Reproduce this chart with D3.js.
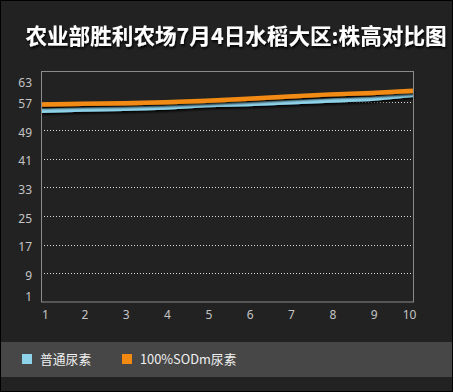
<!DOCTYPE html>
<html>
<head>
<meta charset="utf-8">
<script src="https://cdn.jsdelivr.net/npm/d3@7"></script>
<style>
  html, body { margin: 0; padding: 0; background: #000; }
  svg { display: block; }
</style>
</head>
<body>
<div id="chart"></div>
<script>
// chart data
const titleText = '农业部胜利农场7月4日水稻大区:株高对比图';
const days = [1, 2, 3, 4, 5, 6, 7, 8, 9, 10];
const seriesNames = ['普通尿素', '100%SODm尿素'];
const normalUrea = [54.4, 54.8, 55.0, 55.3, 56.0, 56.3, 56.8, 57.3, 57.8, 58.9];
const sodUrea = [56.2, 56.4, 56.5, 56.8, 57.2, 57.8, 58.4, 59.0, 59.4, 60.0];
const yTicks = [1, 9, 17, 25, 33, 41, 49, 57, 63];
const seriesColors = ['#8fd3ea', '#f28a12'];

const W = 453;
const H = 392;
const margins = { left: 41, right: 40, top: 72, bottom: 90 };

const svg = d3.select('#chart').append('svg')
  .attr('width', W)
  .attr('height', H);

// background + outer frame
svg.append('rect').attr('x', 0).attr('y', 0).attr('width', W).attr('height', H).attr('fill', '#000');
svg.append('rect').attr('x', 1).attr('y', 1).attr('width', W - 2).attr('height', H - 2).attr('fill', '#222222');

// shadow filter for title + lines
const defs = svg.append('defs');
const shadow = defs.append('filter').attr('id', 'shadow').attr('x', '-10%').attr('y', '-50%').attr('width', '120%').attr('height', '200%');
shadow.append('feDropShadow').attr('dx', 1).attr('dy', 2).attr('stdDeviation', 0.8).attr('flood-color', '#000').attr('flood-opacity', 0.9);

svg.append('text')
  .attr('x', 236)
  .attr('y', 44)
  .attr('text-anchor', 'middle')
  .attr('fill', '#fff')
  .attr('font-family', '"Noto Sans CJK SC", sans-serif')
  .attr('font-weight', 'bold')
  .attr('font-size', 21.6)
  .attr('filter', 'url(#shadow)')
  .text(titleText);

const x = d3.scaleLinear()
  .domain([1, 10])
  .range([margins.left, W - margins.right]);

const y = d3.scaleLinear()
  .domain([1, 65.25])
  .range([H - margins.bottom, margins.top]);

const plot = svg.append('g');

// dotted grid lines (inner ticks only)
plot.selectAll('line.grid')
  .data(yTicks.filter((d) => d > 1 && d < 63))
  .enter().append('line')
  .attr('class', 'grid')
  .attr('x1', margins.left)
  .attr('x2', W - margins.right)
  .attr('y1', (d) => Math.round(y(d)) + 0.5)
  .attr('y2', (d) => Math.round(y(d)) + 0.5)
  .attr('stroke', '#d8d8d8')
  .attr('stroke-width', 1)
  .attr('stroke-dasharray', '1,2');

// y axis labels
const yAxis = d3.axisLeft(y).tickValues(yTicks).tickSize(0).tickPadding(9);
const yg = plot.append('g')
  .attr('transform', `translate(${margins.left},0)`)
  .call(yAxis);
yg.select('.domain').remove();
yg.selectAll('text')
  .attr('fill', '#c4c4c4')
  .attr('font-family', '"Noto Sans", sans-serif')
  .attr('font-size', 12)
  .attr('dy', (d) => (d === 1 ? '-0.1em' : '0.5em'));

// x axis labels
const xAxis = d3.axisBottom(x).tickValues(days).tickSize(0).tickPadding(8);
const xg = plot.append('g')
  .attr('transform', `translate(0,${H - margins.bottom})`)
  .call(xAxis);
xg.select('.domain').remove();
xg.selectAll('text')
  .attr('fill', '#c4c4c4')
  .attr('font-family', '"Noto Sans", sans-serif')
  .attr('font-size', 12)
  .attr('dx', (d) => (d === 1 ? 4 : d === 10 ? -4 : 2));

// lines
const series = [normalUrea, sodUrea];
const line = d3.line()
  .x((d, i) => x(days[i]))
  .y((d) => y(d));

plot.selectAll('path.series')
  .data(series)
  .enter().append('path')
  .attr('class', 'series')
  .attr('d', line)
  .attr('fill', 'none')
  .attr('stroke', (d, i) => seriesColors[i])
  .attr('stroke-width', 4.5)
  .attr('filter', 'url(#shadow)');

// plot frame
plot.append('rect')
  .attr('x', margins.left + 0.5)
  .attr('y', margins.top - 0.5)
  .attr('width', W - margins.right - margins.left)
  .attr('height', H - margins.bottom - margins.top + 0.5)
  .attr('fill', 'none')
  .attr('stroke', '#8a8a8a')
  .attr('stroke-width', 1);

// legend band
svg.append('rect')
  .attr('x', 1)
  .attr('y', 342)
  .attr('width', W - 2)
  .attr('height', 35)
  .attr('fill', '#474747');

const legendX = [22, 122];
const legend = svg.selectAll('g.legend')
  .data(seriesNames)
  .enter().append('g')
  .attr('class', 'legend')
  .attr('transform', (d, i) => `translate(${legendX[i]},354)`);
legend.append('rect')
  .attr('width', 10)
  .attr('height', 10)
  .attr('fill', (d, i) => seriesColors[i]);
legend.append('text')
  .attr('x', 18)
  .attr('y', 5)
  .attr('dy', '0.36em')
  .attr('fill', '#f0f0f0')
  .attr('font-family', '"Noto Sans CJK SC", sans-serif')
  .attr('font-size', 12.8)
  .text((d) => d);
</script>
</body>
</html>
